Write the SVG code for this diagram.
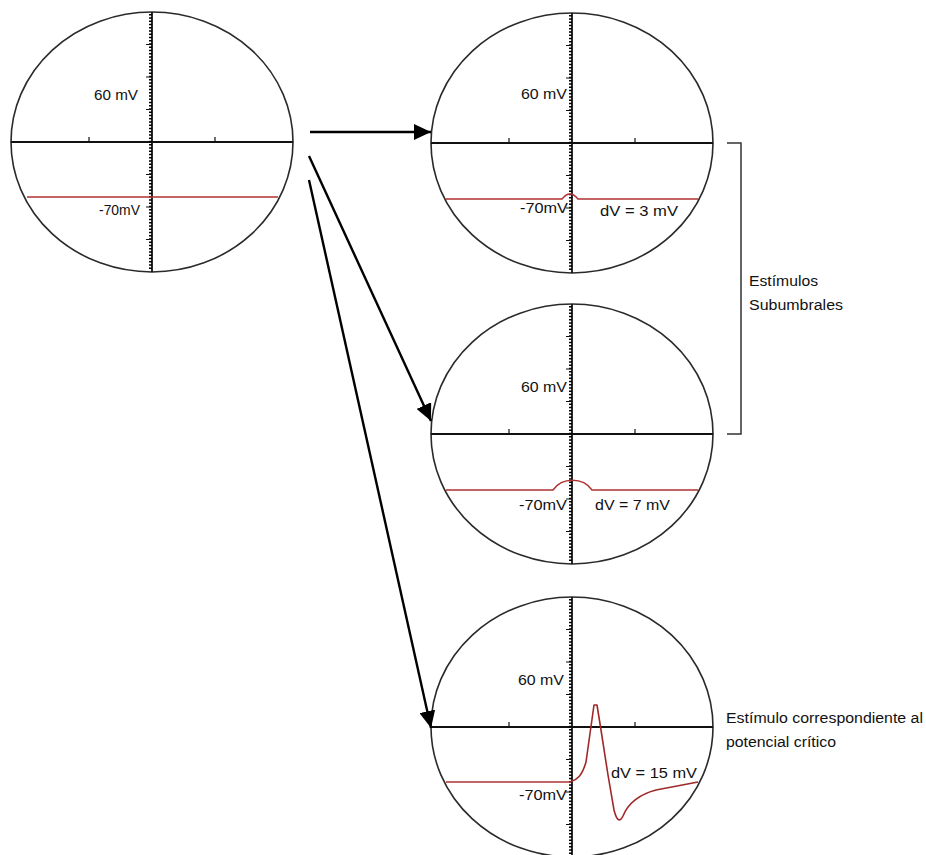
<svg xmlns="http://www.w3.org/2000/svg" width="926" height="855" viewBox="0 0 926 855">
<style>
.frame{fill:none;stroke:#2a2a2a;stroke-width:1.6}
.axis{stroke:#111;stroke-width:1.8}
.tick{stroke:#111;stroke-width:1.2}
.minor{stroke:#000;stroke-width:3;stroke-dasharray:1.4 1.85}
.trace{fill:none;stroke:#b03030;stroke-width:1.4}
.spike{fill:none;stroke:#a02828;stroke-width:1.6;stroke-linejoin:round}
.lbl{font-family:"Liberation Sans",Arial,sans-serif;font-size:14.5px;fill:#111}
.note{font-family:"Liberation Sans",Arial,sans-serif;font-size:14px;fill:#111}
.arrow{stroke:#000;stroke-width:2.4;fill:none;marker-end:url(#head)}
.brace{fill:none;stroke:#333;stroke-width:1.5}
</style>
<defs>
<marker id="head" markerUnits="userSpaceOnUse" markerWidth="18" markerHeight="16" refX="17" refY="8" orient="auto">
<path d="M0,0 L17,8 L0,16 z" fill="#000"/>
</marker>
<g id="scope">
<ellipse class="frame" cx="0" cy="0" rx="141" ry="130"/>
<line class="axis" x1="-141" y1="0" x2="141" y2="0"/>
<line class="axis" x1="0" y1="-130" x2="0" y2="130"/>
<line class="tick" x1="-63" y1="0" x2="-63" y2="-5"/>
<line class="tick" x1="63" y1="0" x2="63" y2="-5"/>
<line class="minor" x1="-1.5" y1="-128" x2="-1.5" y2="128"/>
<path class="tick" d="M0,-97.5h-6M0,-65h-6M0,-32.5h-6M0,32.5h-6M0,65h-6M0,97.5h-6"/>
</g>
</defs>
<rect width="926" height="855" fill="#fff"/>
<g id="node-rest">
<use href="#scope" x="152" y="142"/>
<line class="trace" x1="27" y1="197" x2="278" y2="197"/>
<text class="lbl" x="138" y="100" text-anchor="end" textLength="44" lengthAdjust="spacingAndGlyphs">60 mV</text>
<text class="lbl" x="140" y="215" text-anchor="end" textLength="41" lengthAdjust="spacingAndGlyphs">-70mV</text>
</g>
<g id="node-3mv">
<use href="#scope" x="572" y="143"/>
<path class="trace" d="M446,199 L562,199 Q570,189 578,199 L698,199"/>
<text class="lbl" x="567" y="99" text-anchor="end" textLength="46" lengthAdjust="spacingAndGlyphs">60 mV</text>
<text class="lbl" x="568" y="213" text-anchor="end" textLength="48" lengthAdjust="spacingAndGlyphs">-70mV</text>
<text class="lbl" x="600" y="216" textLength="78" lengthAdjust="spacingAndGlyphs">dV = 3 mV</text>
</g>
<g id="node-7mv">
<use href="#scope" x="572" y="434"/>
<path class="trace" d="M446,490 L553,490 C562,477 583,477 592,490 L698,490"/>
<text class="lbl" x="567" y="392" text-anchor="end" textLength="46" lengthAdjust="spacingAndGlyphs">60 mV</text>
<text class="lbl" x="567" y="510" text-anchor="end" textLength="48" lengthAdjust="spacingAndGlyphs">-70mV</text>
<text class="lbl" x="595" y="510" textLength="75" lengthAdjust="spacingAndGlyphs">dV = 7 mV</text>
</g>
<g id="node-15mv">
<use href="#scope" x="572" y="727"/>
<path class="trace" d="M446,782 L570,782"/>
<path class="spike" d="M570,782 C577,780 582,776 586,762 L594,705 L597,705 L601,730 L608,775 L614,810 Q618,826 623,816 C629,801 641,794 656,790 L698,782"/>
<text class="lbl" x="564" y="685" text-anchor="end" textLength="46" lengthAdjust="spacingAndGlyphs">60 mV</text>
<text class="lbl" x="567" y="800" text-anchor="end" textLength="48" lengthAdjust="spacingAndGlyphs">-70mV</text>
<text class="lbl" x="611" y="778" textLength="86" lengthAdjust="spacingAndGlyphs">dV = 15 mV</text>
</g>
<g id="node-subumbrales">
<path class="brace" d="M727,143 H741 V434 H727"/>
<text class="note" x="749" y="286" textLength="69" lengthAdjust="spacingAndGlyphs">Estímulos</text>
<text class="note" x="749" y="310" textLength="94" lengthAdjust="spacingAndGlyphs">Subumbrales</text>
</g>
<g id="node-critico">
<text class="note" x="726" y="723" textLength="197" lengthAdjust="spacingAndGlyphs">Estímulo correspondiente al</text>
<text class="note" x="726" y="747" textLength="110" lengthAdjust="spacingAndGlyphs">potencial crítico</text>
</g>
<g id="connectors">
<line class="arrow" x1="310" y1="132" x2="431" y2="132"/>
<line class="arrow" x1="309" y1="156" x2="431" y2="421"/>
<line class="arrow" x1="309" y1="180" x2="431" y2="728"/>
</g>
</svg>
